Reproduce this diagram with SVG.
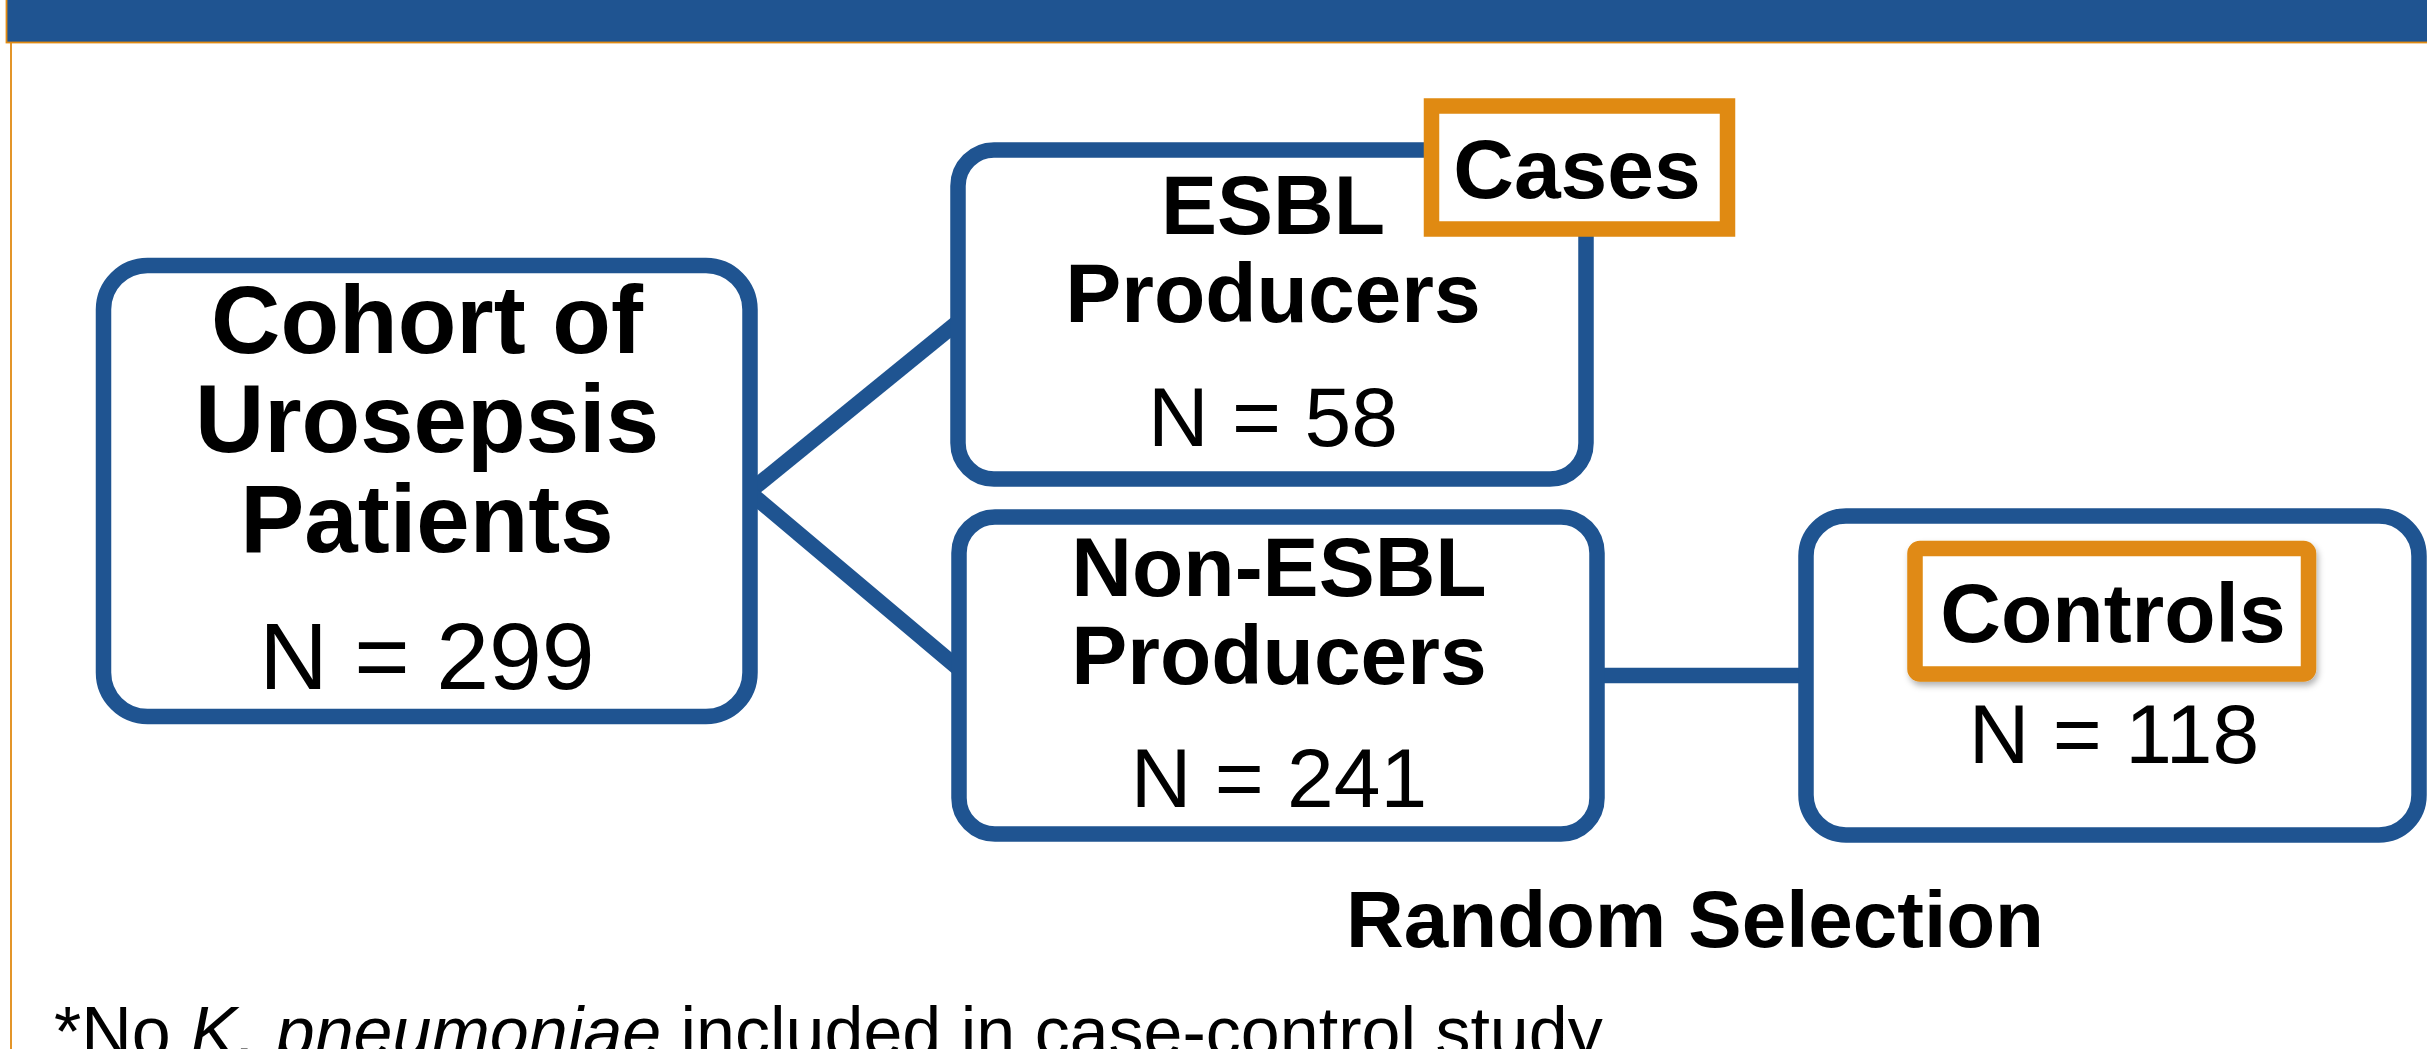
<svg xmlns="http://www.w3.org/2000/svg" width="2427" height="1049" viewBox="0 0 2427 1049">
  <defs>
    <style>
      .box { fill: #ffffff; stroke: #1F5491; stroke-width: 15.5; }
      .tag { fill: #ffffff; stroke: #E08A12; stroke-width: 15.5; }
      .conn { stroke: #1F5491; stroke-width: 15.5; fill: none; }
      .b { font-family: "Liberation Sans", Arial, sans-serif; font-weight: bold; fill: #000000; text-anchor: middle; }
      .r { font-family: "Liberation Sans", Arial, sans-serif; font-weight: normal; fill: #000000; text-anchor: middle; }
    </style>
    <filter id="shadow" x="-10%" y="-20%" width="125%" height="150%">
      <feDropShadow dx="2" dy="4" stdDeviation="3" flood-color="#000000" flood-opacity="0.3"/>
    </filter>
  </defs>

  <rect x="0" y="0" width="2427" height="1049" fill="#ffffff"/>

  <!-- frame -->
  <g id="frame">
    <line x1="11" y1="42" x2="11" y2="1049" stroke="#E08A12" stroke-width="1.8"/>
    <rect x="6.5" y="-5" width="2425" height="47.5" fill="#1F5491" stroke="#E08A12" stroke-width="1.8"/>
  </g>

  <!-- connectors -->
  <g id="connectors">
    <line class="conn" x1="749" y1="492" x2="958" y2="322"/>
    <line class="conn" x1="749" y1="492" x2="958" y2="668"/>
    <line class="conn" x1="1598" y1="675.5" x2="1806" y2="675.5"/>
  </g>

  <g id="cohort">
    <rect class="box" x="103.5" y="265.5" width="646.5" height="451" rx="44" ry="44"/>
    <text class="b" x="427" y="353" font-size="96">Cohort of</text>
    <text class="b" x="427" y="452" font-size="96">Urosepsis</text>
    <text class="b" x="427" y="552" font-size="96">Patients</text>
    <text class="r" x="427" y="689" font-size="95">N = 299</text>
  </g>

  <g id="esbl">
    <rect class="box" x="958" y="150" width="628" height="329" rx="36" ry="36"/>
    <text class="b" x="1273" y="234" font-size="84">ESBL</text>
    <text class="b" x="1273" y="322" font-size="84">Producers</text>
    <text class="r" x="1273" y="446" font-size="84">N = 58</text>
  </g>

  <g id="cases">
    <rect class="tag" x="1431.5" y="106" width="296" height="123"/>
    <text class="b" x="1577" y="198" font-size="84">Cases</text>
  </g>

  <g id="nonesbl">
    <rect class="box" x="959" y="517" width="638" height="317" rx="36" ry="36"/>
    <text class="b" x="1279" y="596" font-size="84">Non-ESBL</text>
    <text class="b" x="1279" y="684" font-size="84">Producers</text>
    <text class="r" x="1279" y="807" font-size="84">N = 241</text>
  </g>

  <g id="controls-node">
    <rect class="box" x="1806" y="516" width="613" height="319" rx="40" ry="40"/>
    <rect class="tag" x="1915" y="548.5" width="393.5" height="125.5" rx="5" ry="5" filter="url(#shadow)"/>
    <text class="b" x="2113" y="642" font-size="84">Controls</text>
    <text class="r" x="2114" y="763" font-size="84">N = 118</text>
  </g>

  <g id="random-label">
    <text class="b" x="1695" y="947" font-size="80">Random Selection</text>
  </g>

  <g id="footnote">
    <text x="54" y="1056" font-family="Liberation Sans, Arial, sans-serif" font-size="70" fill="#000000">*No <tspan font-style="italic">K. pneumoniae</tspan> included in case-control study</text>
  </g>
</svg>
